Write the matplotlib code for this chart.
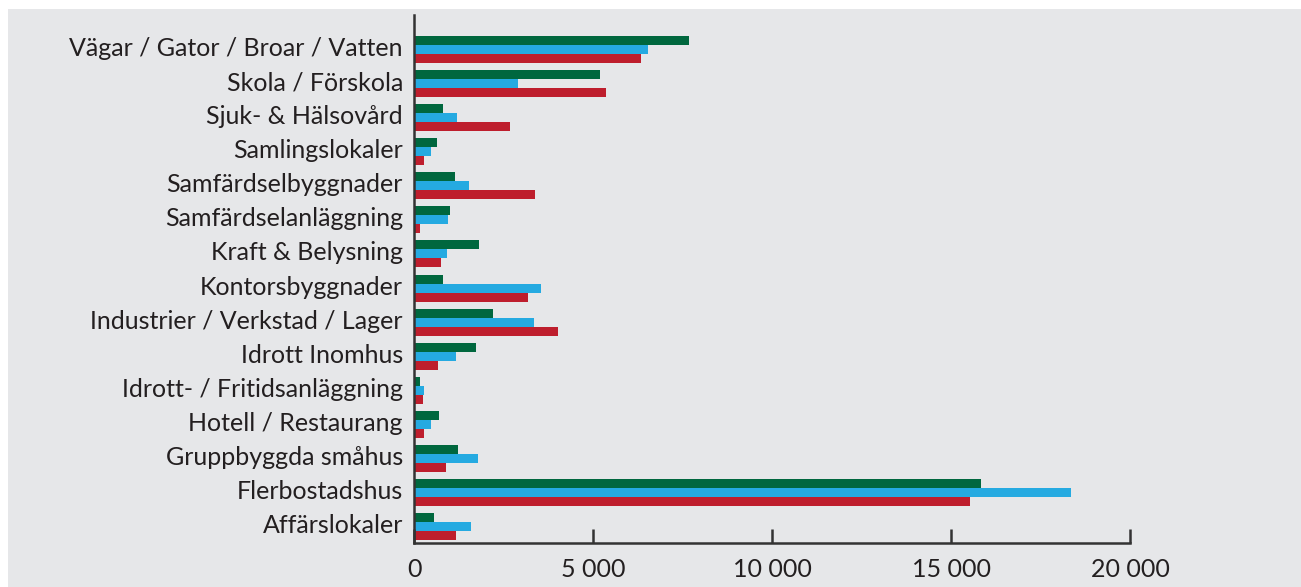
import matplotlib
matplotlib.use('Agg')
import matplotlib.pyplot as plt
from matplotlib.patches import Rectangle
from matplotlib.ticker import FuncFormatter
from matplotlib.transforms import ScaledTranslation
import numpy as np

# categories listed bottom to top
categories = [
    'Affärslokaler',
    'Flerbostadshus',
    'Gruppbyggda småhus',
    'Hotell / Restaurang',
    'Idrott- / Fritidsanläggning',
    'Idrott Inomhus',
    'Industrier / Verkstad / Lager',
    'Kontorsbyggnader',
    'Kraft & Belysning',
    'Samfärdselanläggning',
    'Samfärdselbyggnader',
    'Samlingslokaler',
    'Sjuk- & Hälsovård',
    'Skola / Förskola',
    'Vägar / Gator / Broar / Vatten',
]
green_vals = [560, 15840, 1230, 700, 170, 1730, 2210, 810, 1820, 1010, 1150, 640, 810, 5200, 7680]
blue_vals = [1590, 18360, 1790, 480, 280, 1170, 3350, 3550, 920, 950, 1540, 480, 1200, 2910, 6540]
red_vals = [1170, 15540, 890, 280, 250, 670, 4020, 3190, 750, 170, 3380, 280, 2680, 5370, 6340]
xticks = [0, 5000, 10000, 15000, 20000]

GREEN = '#00673e'
BLUE = '#25aae1'
RED = '#be1e2d'
TEXT = '#231f20'
BG = '#e6e7e9'

plt.rcParams['font.family'] = ['Lato', 'DejaVu Sans']

fig = plt.figure(figsize=(13.01, 5.87), dpi=100, facecolor='white')
fig.patches.append(Rectangle((8 / 1301, 0), 1, 1 - 9 / 587, transform=fig.transFigure,
                             facecolor=BG, edgecolor='none', zorder=-10))

ax = fig.add_axes([414 / 1301, 44.3 / 587, 716 / 1301, 527.7 / 587])
ax.set_facecolor('none')

y = np.arange(len(categories))
h = 9 / 34
ax.barh(y + h, green_vals, height=h, color=GREEN, linewidth=0)
ax.barh(y, blue_vals, height=h, color=BLUE, linewidth=0)
ax.barh(y - h, red_vals, height=h, color=RED, linewidth=0)

ax.set_xlim(0, 20000)
ax.set_ylim(-0.476, 15.015)
ax.set_yticks(y)
ax.set_yticklabels(categories, fontsize=18, color=TEXT)
ax.set_xticks(xticks)
ax.xaxis.set_major_formatter(FuncFormatter(lambda v, p: format(int(v), ',').replace(',', ' ')))

for s in ['top', 'right']:
    ax.spines[s].set_visible(False)
for s in ['left', 'bottom']:
    ax.spines[s].set_color('#333333')
    ax.spines[s].set_linewidth(1.8)

ax.tick_params(axis='y', length=0, pad=8)
ax.tick_params(axis='x', direction='in', length=10, width=1.8, color='#333333',
               labelsize=18, labelcolor=TEXT, pad=11)

# nudge category labels up a little
shift = ScaledTranslation(0, 3 / 100, fig.dpi_scale_trans)
for lbl in ax.get_yticklabels():
    lbl.set_transform(lbl.get_transform() + shift)

fig.savefig('out.png', dpi=100, facecolor='white')
